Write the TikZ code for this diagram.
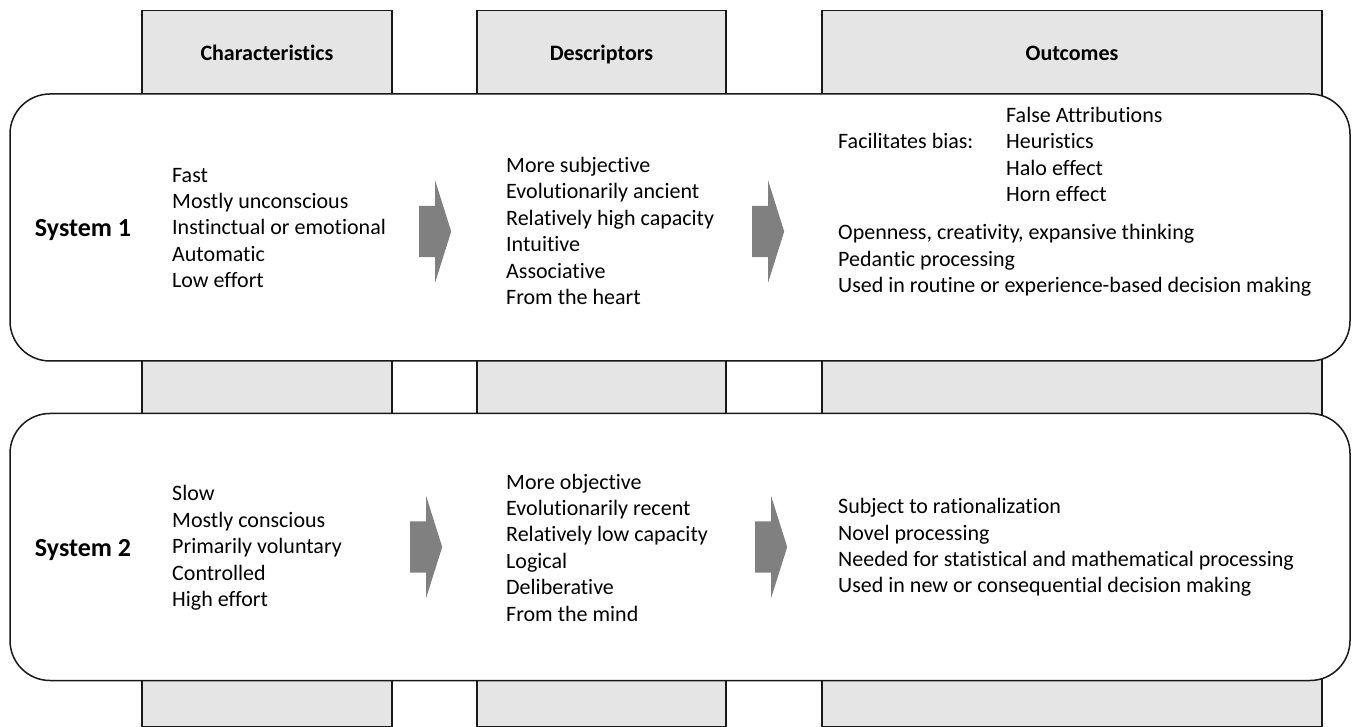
\documentclass[tikz,border=0pt]{standalone}
\usepackage{fontspec}
\setmainfont[Ligatures=NoCommon]{Carlito}
\usepackage{tikz}
\usetikzlibrary{shapes.arrows}
\usetikzlibrary{positioning}
\colorlet{colfill}{gray!20}
\colorlet{arrfill}{black!50}
\colorlet{edge}{black!90}
\tikzstyle{colbox}=[draw=edge,line width=1.5pt,fill=colfill,anchor=north,minimum height=716pt,inner sep=0pt]
\tikzstyle{sysbox}=[draw=edge,line width=1.5pt,fill=white,rounded corners=40pt,minimum width=1340pt,minimum height=267pt,inner sep=0pt]
\tikzstyle{heading}=[anchor=base,font=\fontsize{22}{26.4}\selectfont\bfseries]
\tikzstyle{sysname}=[anchor=base,font=\fontsize{26}{30}\selectfont\bfseries]
\tikzstyle{itemlist}=[align=left,anchor=west,inner sep=0pt,font=\fontsize{22}{26.4}\selectfont]
\tikzstyle{blockarr}=[single arrow,fill=arrfill,draw=none,anchor=tail,inner xsep=0pt,inner ysep=25.5pt,
  single arrow head extend=25.5pt,single arrow tip angle=145,minimum height=32pt]

\begin{document}
\begin{tikzpicture}[x=1pt,y=-1pt]
	\useasboundingbox (0,0) rectangle (1353,727);
	% columns
	\node[colbox,minimum width=250pt] (c1) at (267,10) {};
	\node[colbox,minimum width=249pt] (c2) at (601.5,10) {};
	\node[colbox,minimum width=500pt] (c3) at (1072,10) {};
	\node[heading] (h1) at (267,60.5) {Characteristics};
	\node[heading] (h2) at (601.5,60.5) {Descriptors};
	\node[heading] (h3) at (1072,60.5) {Outcomes};
	% systems
	\node[sysbox] (s1) at (680,227.5) {};
	\node[sysbox] (s2) at (680,547) {};
	\node[sysname] (n1) at (83,237) {System 1};
	\node[sysname] (n2) at (83,556.5) {System 2};
	% system 1
	\node[itemlist] (ch1) at (172,228) {Fast\\Mostly unconscious\\Instinctual or emotional\\Automatic\\Low effort};
	\node[itemlist] (de1) at (506,231) {More subjective\\Evolutionarily ancient\\Relatively high capacity\\Intuitive\\Associative\\From the heart};
	\node[itemlist] (fb) at (838,141) {Facilitates bias:};
	\node[itemlist] (bi) at (1006,154.5) {False Attributions\\Heuristics\\Halo effect\\Horn effect};
	\node[itemlist] (ou1) at (838,260.5) {Openness, creativity, expansive thinking\\Pedantic processing\\Used in routine or experience-based decision making};
	\node[blockarr] (a11) at (419,231.5) {};
	\node[blockarr] (a12) at (752,231.5) {};
	% system 2
	\node[itemlist] (ch2) at (172,548) {Slow\\Mostly conscious\\Primarily voluntary\\Controlled\\High effort};
	\node[itemlist] (de2) at (506,547.5) {More objective\\Evolutionarily recent\\Relatively low capacity\\Logical\\Deliberative\\From the mind};
	\node[itemlist] (ou2) at (838,547.5) {Subject to rationalization\\Novel processing\\Needed for statistical and mathematical processing\\Used in new or consequential decision making};
	\node[blockarr] (a21) at (410,547) {};
	\node[blockarr] (a22) at (755,547) {};
\end{tikzpicture}
\end{document}
